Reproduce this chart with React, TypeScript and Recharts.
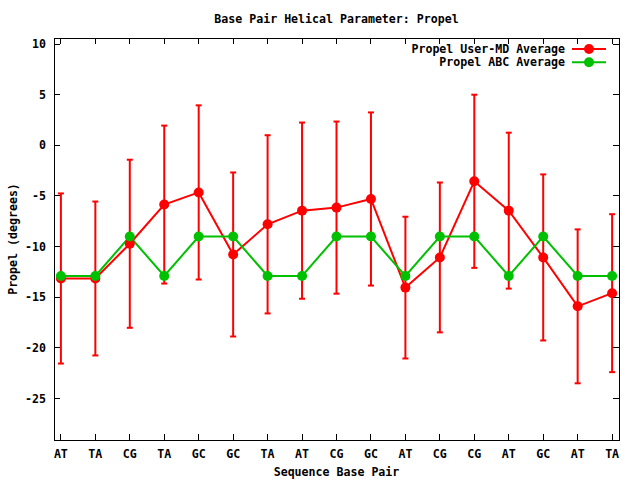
import React from "react";
import {
  ComposedChart, Line, XAxis, YAxis, ErrorBar, ReferenceArea, Legend, Label,
} from "recharts";

const pairs = ["AT", "TA", "CG", "TA", "GC", "GC", "TA", "AT", "CG", "GC", "AT", "CG", "CG", "AT", "GC", "AT", "TA"];
const userMd = [-13.15, -13.15, -9.72, -5.85, -4.65, -10.78, -7.8, -6.45, -6.15, -5.3, -14.05, -11.07, -3.55, -6.45, -11.07, -15.9, -14.6];
const userMdErr = [8.4, 7.6, 8.3, 7.8, 8.6, 8.1, 8.8, 8.7, 8.5, 8.55, 7.0, 7.4, 8.55, 7.7, 8.2, 7.6, 7.8];
const abc = [-12.9, -12.9, -9.0, -12.9, -9.0, -9.0, -12.9, -12.9, -9.0, -9.0, -12.9, -9.0, -9.0, -12.9, -9.0, -12.9, -12.9];
const seriesNames = ["Propel User-MD Average", "Propel ABC Average"];
const yTicks = [10, 5, 0, -5, -10, -15, -20, -25];
const xTicks = pairs.map((_, i) => i);

const X_DOMAIN: [number, number] = [-0.2, 16.2];
const Y_DOMAIN: [number, number] = [-29.1, 10.6];

const RED = "#ff0000";
const GREEN = "#00c000";

const font = {
  fontFamily: "'DejaVu Sans Mono', monospace",
  fontWeight: "bold" as const,
  fontSize: 11.6,
  fill: "#000",
};

const data = pairs.map((pair, i) => ({
  x: i,
  pair,
  userMd: userMd[i],
  err: userMdErr[i],
  abc: abc[i],
}));

// gnuplot style: ticks point into the plot, labels outside
const BottomTick = ({ x, y, payload }: any) => (
  <g>
    <line x1={x} x2={x} y1={y} y2={y - 6} stroke="#000" shapeRendering="crispEdges" />
    <text x={x} y={y + 18} textAnchor="middle" style={font}>{pairs[payload.value]}</text>
  </g>
);

const TopTick = ({ x, y }: any) => (
  <line x1={x} x2={x} y1={y} y2={y + 6} stroke="#000" shapeRendering="crispEdges" />
);

const LeftTick = ({ x, y, payload }: any) => (
  <g>
    <line x1={x} x2={x + 6} y1={y} y2={y} stroke="#000" shapeRendering="crispEdges" />
    <text x={x - 8} y={y} dy="0.35em" textAnchor="end" style={font}>{payload.value}</text>
  </g>
);

const RightTick = ({ x, y }: any) => (
  <line x1={x} x2={x - 6} y1={y} y2={y} stroke="#000" shapeRendering="crispEdges" />
);

// recharts sorts legend items by name; keep the plot order instead
const LegendBox = ({ payload }: any) => {
  const items = [...(payload || [])].sort(
    (a: any, b: any) => seriesNames.indexOf(a.value) - seriesNames.indexOf(b.value),
  );
  return (
    <svg width={230} height={32} style={{ display: "block" }}>
      {items.map((p: any, i: number) => {
        const cy = 9 + i * 13.3;
        return (
          <g key={p.value}>
            <text x={165} y={cy} dy="0.35em" textAnchor="end" style={font}>{p.value}</text>
            <line x1={172} x2={206} y1={cy} y2={cy} stroke={p.color} strokeWidth={2} />
            <circle cx={189} cy={cy} r={5} fill={p.color} />
          </g>
        );
      })}
    </svg>
  );
};

export default function App() {
  return (
    <div style={{ position: "absolute", left: 0, top: 0, width: 640, height: 480, background: "#fff" }}>
      <ComposedChart width={640} height={480} data={data} margin={{ top: 0, right: 0, bottom: 0, left: 0 }}>
        <XAxis
          dataKey="x"
          type="number"
          domain={X_DOMAIN}
          allowDataOverflow
          ticks={xTicks}
          interval={0}
          height={40}
          tickSize={0}
          tickMargin={0}
          tickLine={false}
          axisLine={false}
          tick={<BottomTick />}
        >
          <Label
            content={({ viewBox }: any) => (
              <text x={viewBox.x + viewBox.width / 2} y={viewBox.y + 36} textAnchor="middle" style={font}>
                Sequence Base Pair
              </text>
            )}
          />
        </XAxis>
        <XAxis
          xAxisId="top"
          orientation="top"
          dataKey="x"
          type="number"
          domain={X_DOMAIN}
          allowDataOverflow
          ticks={xTicks}
          interval={0}
          height={38}
          tickSize={0}
          tickMargin={0}
          tickLine={false}
          axisLine={false}
          tick={<TopTick />}
        >
          <Label
            content={({ viewBox }: any) => (
              <text x={viewBox.x + viewBox.width / 2} y={23} textAnchor="middle" style={font}>
                Base Pair Helical Parameter: Propel
              </text>
            )}
          />
        </XAxis>
        <YAxis
          type="number"
          domain={Y_DOMAIN}
          allowDataOverflow
          ticks={yTicks}
          interval={0}
          width={54}
          tickSize={0}
          tickMargin={0}
          tickLine={false}
          axisLine={false}
          tick={<LeftTick />}
        >
          <Label
            content={({ viewBox }: any) => {
              const cx = 13;
              const cy = viewBox.y + viewBox.height / 2;
              return (
                <text x={cx} y={cy} dy="0.35em" textAnchor="middle" transform={`rotate(-90 ${cx} ${cy})`} style={font}>
                  Propel (degrees)
                </text>
              );
            }}
          />
        </YAxis>
        <YAxis
          yAxisId="right"
          orientation="right"
          type="number"
          domain={Y_DOMAIN}
          allowDataOverflow
          ticks={yTicks}
          interval={0}
          width={21}
          tickSize={0}
          tickMargin={0}
          tickLine={false}
          axisLine={false}
          tick={<RightTick />}
        />
        <ReferenceArea
          x1={X_DOMAIN[0]}
          x2={X_DOMAIN[1]}
          y1={Y_DOMAIN[0]}
          y2={Y_DOMAIN[1]}
          fill="none"
          stroke="#000"
          strokeWidth={1}
          shapeRendering="crispEdges"
        />
        <Legend
          layout="vertical"
          align="center"
          verticalAlign="middle"
          wrapperStyle={{ left: 400, top: 40, width: 230, height: 32 }}
          content={<LegendBox />}
        />
        <Line
          dataKey="userMd"
          name={seriesNames[0]}
          stroke={RED}
          strokeWidth={2}
          dot={{ r: 5, fill: RED, stroke: "none" }}
          activeDot={false}
          isAnimationActive={false}
        >
          <ErrorBar dataKey="err" direction="y" width={3} stroke={RED} strokeWidth={2} isAnimationActive={false} />
        </Line>
        <Line
          dataKey="abc"
          name={seriesNames[1]}
          stroke={GREEN}
          strokeWidth={2}
          dot={{ r: 5, fill: GREEN, stroke: "none" }}
          activeDot={false}
          isAnimationActive={false}
        />
      </ComposedChart>
    </div>
  );
}
